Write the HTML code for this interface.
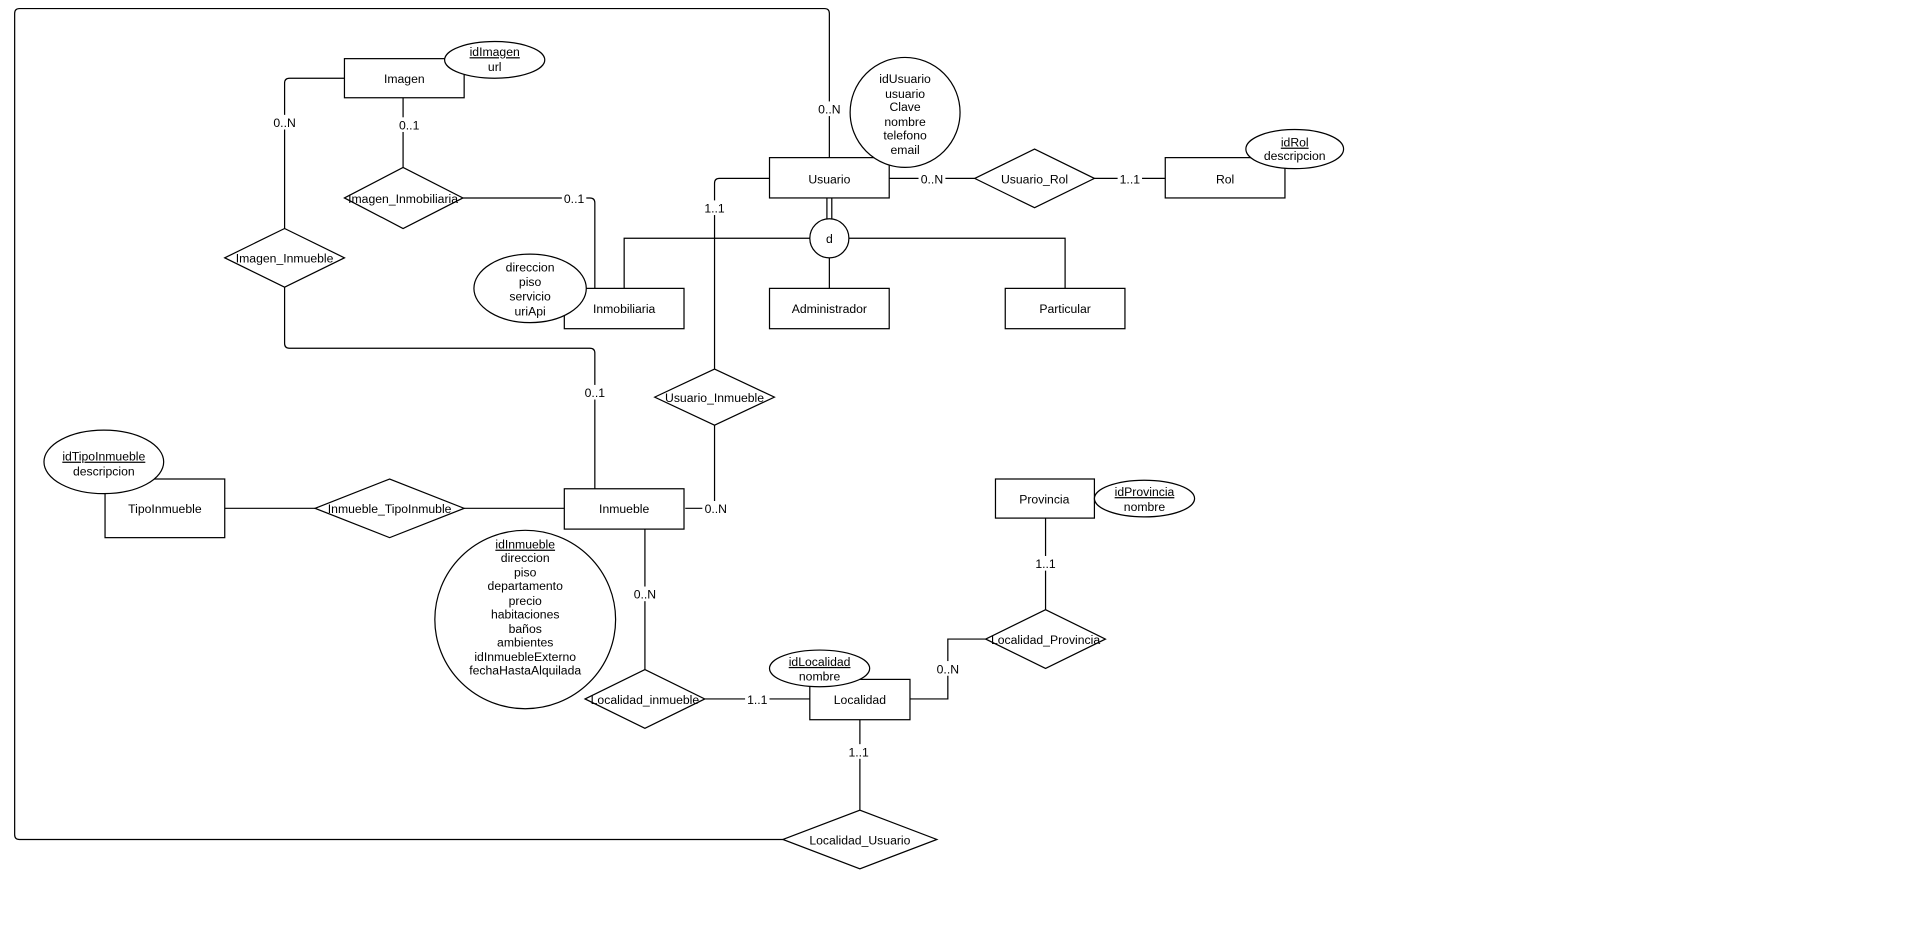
<!DOCTYPE html>
<html><head><meta charset="utf-8"><style>
html,body{margin:0;padding:0;background:#fff;}
svg{display:block;}
text{font-family:"Liberation Sans",Arial,sans-serif;font-size:10px;fill:#000;}
.l{fill:#fff;}
</style></head><body>
<svg width="1914" height="925" viewBox="0 0 1567 757" preserveAspectRatio="none" xmlns="http://www.w3.org/2000/svg">
<g fill="none" stroke="#000" stroke-width="1">
<path d="M641,687 H16 Q12,687 12,683 V11 Q12,7 16,7 H675 Q679,7 679,11 V129"/>
<path d="M330,80 V137"/>
<path d="M379,162 H483 Q487,162 487,166 V236"/>
<path d="M282,64 H237 Q233,64 233,68 V187"/>
<path d="M233,235 V281 Q233,285 237,285 H483 Q487,285 487,289 V400"/>
<path d="M728,146 H798"/><path d="M896,146 H954"/>
<path d="M677,162 V179 M681,162 V179"/>
<path d="M663,195 H511 V236"/><path d="M695,195 H872 V236"/><path d="M679,211 V236"/>
<path d="M630,146 H589 Q585,146 585,150 V302"/>
<path d="M585,348 V416 H561"/>
<path d="M184,416 H258"/><path d="M380,416 H462"/>
<path d="M528,433 V548"/><path d="M577,572 H663"/>
<path d="M745,572 H776 V523 H807"/>
<path d="M856,499 V424"/>
<path d="M704,589 V663"/>
</g>
<g fill="#fff" stroke="#000" stroke-width="1">
<rect x="282" y="48" width="98" height="32"/>
<ellipse cx="405" cy="49" rx="41" ry="15"/>
<polygon points="282,162 330,137 379,162 330,187"/>
<polygon points="184,211 233,187 282,211 233,235"/>
<rect x="462" y="236" width="98" height="33"/>
<ellipse cx="434" cy="236" rx="46" ry="28"/>
<rect x="630" y="129" width="98" height="33"/>
<ellipse cx="741" cy="92" rx="45" ry="45"/>
<polygon points="798,146 847,122 896,146 847,170"/>
<rect x="954" y="129" width="98" height="33"/>
<ellipse cx="1060" cy="122" rx="40" ry="16"/>
<ellipse cx="679" cy="195" rx="16" ry="16"/>
<rect x="630" y="236" width="98" height="33"/>
<rect x="823" y="236" width="98" height="33"/>
<polygon points="536,325 585,302 634,325 585,348"/>
<rect x="462" y="400" width="98" height="33"/>
<polygon points="258,416 319,392 380,416 319,440"/>
<rect x="86" y="392" width="98" height="48"/>
<ellipse cx="85" cy="378" rx="49" ry="26"/>
<ellipse cx="430" cy="507" rx="74" ry="73"/>
<polygon points="479,572 528,548 577,572 528,596"/>
<rect x="663" y="556" width="82" height="33"/>
<ellipse cx="671" cy="547" rx="41" ry="15"/>
<polygon points="807,523 856,499 905,523 856,547"/>
<rect x="815" y="392" width="81" height="32"/>
<ellipse cx="937" cy="408" rx="41" ry="15"/>
<polygon points="641,687 704,663 767,687 704,711"/>
</g>
<g class="l">
<rect x="668" y="83" width="22" height="12"/>
<rect x="325" y="96" width="20" height="12"/>
<rect x="460" y="156" width="20" height="12"/>
<rect x="223" y="94" width="22" height="12"/>
<rect x="477" y="315" width="20" height="12"/>
<rect x="752" y="140" width="22" height="12"/>
<rect x="915" y="140" width="20" height="12"/>
<rect x="575" y="164" width="20" height="12"/>
<rect x="575" y="410" width="22" height="12"/>
<rect x="517" y="480" width="22" height="12"/>
<rect x="610" y="566" width="20" height="12"/>
<rect x="765" y="541" width="22" height="12"/>
<rect x="846" y="455" width="20" height="12"/>
<rect x="693" y="609" width="20" height="12"/>
</g>
<g text-anchor="middle">
<text x="679" y="93">0..N</text>
<text x="335" y="106">0..1</text>
<text x="470" y="166">0..1</text>
<text x="233" y="104">0..N</text>
<text x="487" y="325">0..1</text>
<text x="763" y="150">0..N</text>
<text x="925" y="150">1..1</text>
<text x="585" y="174">1..1</text>
<text x="586" y="420">0..N</text>
<text x="528" y="490">0..N</text>
<text x="620" y="576">1..1</text>
<text x="776" y="551">0..N</text>
<text x="856" y="465">1..1</text>
<text x="703" y="619">1..1</text>

<text x="331" y="68">Imagen</text>
<text x="405" y="46" text-decoration="underline">idImagen</text>
<text x="405" y="58">url</text>
<text x="330" y="166">Imagen_Inmobiliaria</text>
<text x="233" y="215">Imagen_Inmueble</text>
<text x="511" y="256">Inmobiliaria</text>
<text x="434" y="222">direccion</text><text x="434" y="234">piso</text><text x="434" y="246">servicio</text><text x="434" y="258">uriApi</text>
<text x="679" y="150">Usuario</text>
<text x="741" y="68">idUsuario</text><text x="741" y="80">usuario</text><text x="741" y="91">Clave</text><text x="741" y="103">nombre</text><text x="741" y="114">telefono</text><text x="741" y="126">email</text>
<text x="847" y="150">Usuario_Rol</text>
<text x="1003" y="150">Rol</text>
<text x="1060" y="120" text-decoration="underline">idRol</text><text x="1060" y="131">descripcion</text>
<text x="679" y="199">d</text>
<text x="679" y="256">Administrador</text>
<text x="872" y="256">Particular</text>
<text x="585" y="329">Usuario_Inmueble</text>
<text x="511" y="420">Inmueble</text>
<text x="319" y="420">Inmueble_TipoInmuble</text>
<text x="135" y="420">TipoInmueble</text>
<text x="85" y="377" text-decoration="underline">idTipoInmueble</text><text x="85" y="389">descripcion</text>
<text x="430" y="449" text-decoration="underline">idInmueble</text>
<text x="430" y="460">direccion</text><text x="430" y="472">piso</text><text x="430" y="483">departamento</text><text x="430" y="495">precio</text><text x="430" y="506">habitaciones</text><text x="430" y="518">baños</text><text x="430" y="529">ambientes</text><text x="430" y="541">idInmuebleExterno</text><text x="430" y="552">fechaHastaAlquilada</text>
<text x="528" y="576">Localidad_inmueble</text>
<text x="704" y="576">Localidad</text>
<text x="671" y="545" text-decoration="underline">idLocalidad</text><text x="671" y="557">nombre</text>
<text x="856" y="527">Localidad_Provincia</text>
<text x="855" y="412">Provincia</text>
<text x="937" y="406" text-decoration="underline">idProvincia</text><text x="937" y="418">nombre</text>
<text x="704" y="691">Localidad_Usuario</text>
</g>
</svg>
</body></html>
